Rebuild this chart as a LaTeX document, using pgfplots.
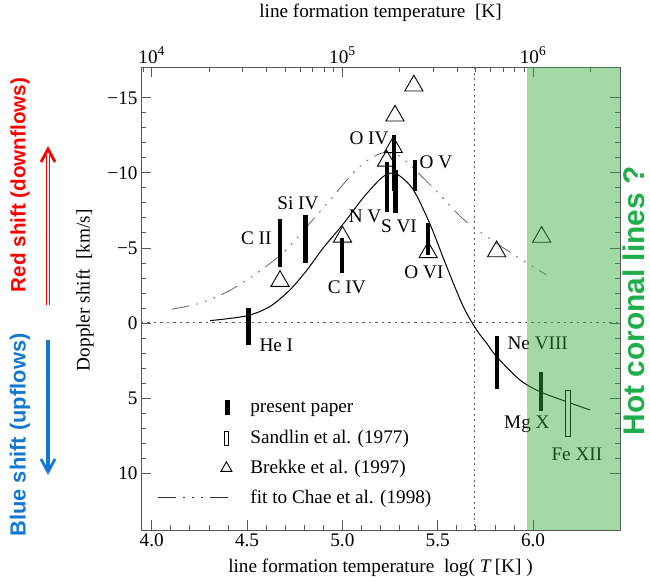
\documentclass[border=0pt]{standalone}
\usepackage{pgfplots}
\pgfplotsset{compat=1.18}
\usepackage{fontspec}
\setmainfont{Liberation Serif}
\newfontfamily\arial{Liberation Sans}
\definecolor{axgray}{gray}{0.35}
\definecolor{bandgreen}{RGB}{51,171,56}
\definecolor{redtxt}{RGB}{255,0,0}
\definecolor{bluetxt}{RGB}{20,120,210}
\definecolor{greentxt}{RGB}{30,175,75}
\newcommand{\fs}{\fontsize{19.3}{21}\selectfont}
\begin{document}
\begin{tikzpicture}
\path[use as bounding box] (-141bp,-52bp) rectangle (509bp,530bp);
% ---------- top axis (temperature in K) ----------
\begin{axis}[
  scale only axis, width=479bp, height=463bp,
  xmode=log, xmin=8790, xmax=2857590, ymin=0, ymax=1,
  hide y axis, axis x line*=top,
  axis line style={axgray},
  xtick={1e4,1e5,1e6},
  xticklabels={10\textsuperscript{4},10\textsuperscript{5},10\textsuperscript{6}},
  minor xtick={9000,20000,30000,40000,50000,60000,70000,80000,90000,200000,300000,400000,500000,600000,700000,800000,900000,2000000},
  tick align=inside, major tick length=10bp, minor tick length=5bp,
  every tick/.style={axgray, line width=0.7bp},
  tick label style={font=\fs},
  xlabel={line formation temperature\ \ [K]},
  xlabel style={font=\fs, at={(axis description cs:0.5,1.117)}, anchor=center},
]
\addplot[draw=none] coordinates {(1e5,0.5)};
\end{axis}
% ---------- main axis ----------
\begin{axis}[
  scale only axis, width=479bp, height=463bp,
  xmin=3.944, xmax=6.456, ymin=-17.05, ymax=13.8, y dir=reverse,
  xtick pos=bottom, ytick pos=both,
  xtick={4,4.5,5,5.5,6}, xticklabels={4.0,4.5,5.0,5.5,6.0},
  minor x tick num=4,
  ytick={-15,-10,-5,0,5,10}, yticklabels={−15,−10,−5,0,5,10},
  minor y tick num=4,
  tick align=inside, major tick length=10bp, minor tick length=5bp,
  axis line style={axgray},
  every tick/.style={axgray, line width=0.7bp},
  tick label style={font=\fs},
  xlabel={line formation temperature\ \ log( \textit{T}\,[K] )},
  ylabel={Doppler shift\ \ [km/s]},
  xlabel style={font=\fs, at={(axis description cs:0.5,-0.082)}, anchor=center},
  ylabel style={font=\fs, at={(axis description cs:-0.117,0.518)}, anchor=center},
  clip mode=individual,
  legend style={draw=none, fill=none, at={(axis description cs:0.035,0.2855)}, anchor=north west,
    font=\fs, row sep=11bp, inner sep=0pt,
    /tikz/every odd column/.append style={column sep=16bp}},
  legend cell align=left,
]
% zero line and vertical dotted line
\addplot[forget plot, axgray, line width=0.8bp, dash pattern=on 2.5bp off 4bp] coordinates {(3.944,0) (6.456,0)};
\addplot[forget plot, axgray, line width=0.8bp, dash pattern=on 2bp off 3.5bp] coordinates {(5.69,-17.05) (5.69,13.8)};
% fit to Chae et al. (1998)
\addplot[forget plot, black!60, line width=0.8bp, smooth, dash pattern=on 18bp off 7bp on 2bp off 7bp on 2bp off 7bp on 2bp off 7bp] coordinates {
(4.105,-0.91) (4.25,-1.3) (4.40,-2.1) (4.55,-3.3) (4.70,-4.8) (4.85,-6.95)
(4.95,-8.4) (5.05,-9.9) (5.14,-10.9) (5.22,-11.35) (5.30,-11.1) (5.38,-10.2)
(5.50,-8.7) (5.64,-6.85) (5.85,-4.95) (6.07,-3.2)};
% fit curve (solid)
\addplot[forget plot, black, line width=1bp, smooth] coordinates {
(4.306,-0.15) (4.498,-0.47) (4.620,-1.09) (4.725,-2.2) (4.813,-3.5) (4.900,-5.0)
(5.005,-6.6) (5.110,-8.35) (5.200,-9.6) (5.250,-9.97) (5.295,-9.85) (5.372,-8.87)
(5.459,-6.6) (5.547,-3.75) (5.634,-1.09) (5.704,0.47) (5.757,1.36) (5.809,2.25) (5.931,3.8)
(6.036,4.58) (6.176,5.25) (6.298,5.8)};
% present paper
\addplot[forget plot, black, line width=4.6bp, unbounded coords=jump] coordinates {
(4.507,-0.98) (4.507,1.47) (4.507,nan)
(4.673,-6.9) (4.673,-3.7) (4.673,nan)
(4.808,-7.2) (4.808,-3.98) (4.808,nan)
(4.999,-5.64) (4.999,-3.31) (4.999,nan)
(5.235,-10.75) (5.235,-7.42) (5.235,nan)
(5.270,-12.5) (5.270,-8.8) (5.270,nan)
(5.280,-10.2) (5.280,-7.31) (5.280,nan)
(5.381,-10.87) (5.381,-8.76) (5.381,nan)
(5.450,-6.64) (5.450,-4.53) (5.450,nan)
(5.811,0.87) (5.811,4.42) (5.811,nan)
(6.041,3.24) (6.041,5.84)};
% Sandlin et al. (1977)
\addplot[forget plot, black, line width=0.9bp, fill=white] coordinates {(6.170,4.53) (6.195,4.53) (6.195,7.58) (6.170,7.58)} -- cycle;
% Brekke et al. (1997)
\addplot[forget plot, only marks, mark=triangle, mark size=10.5bp, mark options={black, line width=0.9bp}] coordinates {
(4.673,-2.78) (5.001,-5.73) (5.232,-10.8) (5.267,-11.7) (5.276,-13.8) (5.375,-15.8)
(5.450,-4.7) (5.809,-4.76) (6.045,-5.72)};
% ion labels
\node[font=\fs, anchor=west] at (axis cs:4.547,1.47) {He I};
\node[font=\fs, anchor=east] at (axis cs:4.647,-5.65) {C II};
\node[font=\fs] at (axis cs:4.767,-7.98) {Si IV};
\node[font=\fs] at (axis cs:5.119,-7.09) {N V};
\node[font=\fs] at (axis cs:5.023,-2.38) {C IV};
\node[font=\fs] at (axis cs:5.14,-12.3) {O IV};
\node[font=\fs] at (axis cs:5.297,-6.42) {S VI};
\node[font=\fs] at (axis cs:5.491,-10.69) {O V};
\node[font=\fs] at (axis cs:5.428,-3.38) {O VI};
\node[font=\fs, anchor=west] at (axis cs:5.848,1.36) {Ne VIII};
\node[font=\fs] at (axis cs:5.968,6.73) {Mg X};
\node[font=\fs] at (axis cs:6.23,8.73) {Fe XII};
% legend
\addlegendimage{legend image code/.code={\path (0bp,0bp) (70bp,0bp); \draw[black, line width=4.6bp] (69bp,-7.5bp) -- (69bp,7.5bp);}}
\addlegendentry{present paper}
\addlegendimage{legend image code/.code={\path (0bp,0bp) (70bp,0bp); \draw[black, line width=0.9bp] (66bp,-7bp) rectangle (70bp,7bp);}}
\addlegendentry{Sandlin et al. (1977)}
\addlegendimage{legend image code/.code={\path (0bp,0bp) (70bp,0bp); \draw[black, line width=0.9bp] (62.5bp,-3.5bp) -- (68bp,6bp) -- (73.5bp,-3.5bp) -- cycle;}}
\addlegendentry{Brekke et al. (1997)}
\addlegendimage{legend image code/.code={\draw[black!80, line width=0.9bp, dash pattern=on 18bp off 7bp on 2bp off 7bp on 2bp off 7bp on 2bp off 7bp] (0bp,0bp) -- (70bp,0bp);}}
\addlegendentry{fit to Chae et al. (1998)}
% hot coronal band (overlay)
\addplot[forget plot, draw=none, fill=bandgreen, fill opacity=0.45] coordinates {(5.968,-17.05) (6.456,-17.05) (6.456,13.8) (5.968,13.8)} -- cycle;
\end{axis}
% ---------- annotations outside the frame ----------
\node[rotate=90, text=redtxt, font=\arial\bfseries\fontsize{20.7}{22}\selectfont] at (-121bp,345bp) {Red shift (downflows)};
\node[rotate=90, text=bluetxt, font=\arial\bfseries\fontsize{22}{24}\selectfont] at (-121bp,95bp) {Blue shift (upflows)};
\draw[redtxt, line width=4.6bp] (-93bp,225bp) -- (-93bp,375bp);
\draw[white, line width=1.4bp] (-93bp,224bp) -- (-93bp,376bp);
\draw[redtxt, line width=2.8bp, line join=miter] (-100bp,368bp) -- (-93bp,381bp) -- (-86bp,368bp);
\draw[bluetxt, line width=3.2bp] (-93bp,190bp) -- (-93bp,60bp);
\draw[bluetxt, line width=2.8bp, line join=miter] (-100bp,71bp) -- (-93bp,58bp) -- (-86bp,71bp);
\node[rotate=90, text=greentxt, font=\arial\bfseries\fontsize{30}{32}\selectfont] at (492.5bp,229bp) {Hot coronal lines ?};
\end{tikzpicture}
\end{document}
